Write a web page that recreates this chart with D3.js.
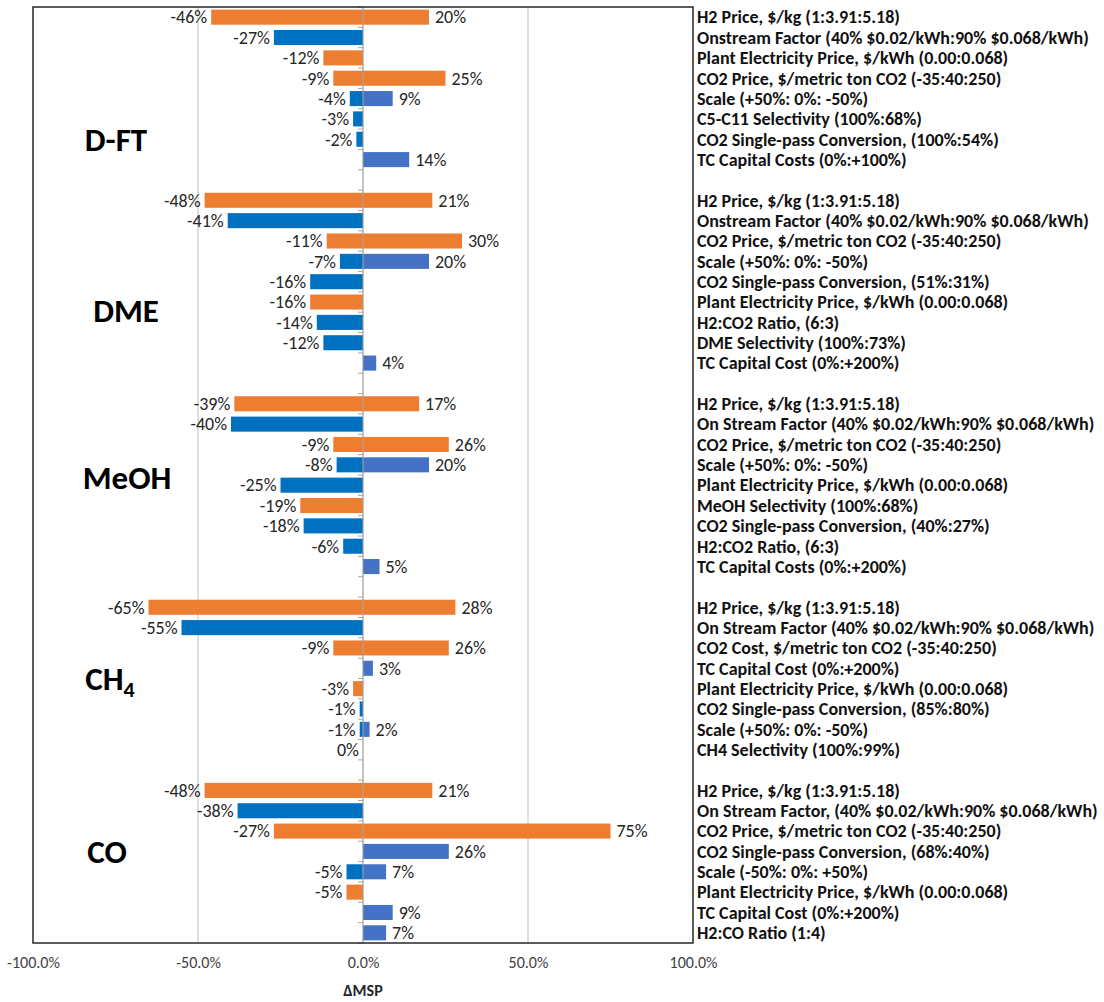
<!DOCTYPE html>
<html>
<head>
<meta charset="utf-8">
<script src="https://cdn.jsdelivr.net/npm/d3@7"></script>
<style>
  body { margin: 0; background: #fff; }
  svg { display: block; }
</style>
</head>
<body>
<svg id="chart" width="1104" height="1002"></svg>
<script>
// ---- Sensitivity results: change in minimum selling price (ΔMSP, %) ----
const products = ["D-FT", "DME", "MeOH", "CH4", "CO"];

const dftFactors = [
  "H2 Price, $/kg (1:3.91:5.18)",
  "Onstream Factor (40% $0.02/kWh:90% $0.068/kWh)",
  "Plant Electricity Price, $/kWh (0.00:0.068)",
  "CO2 Price, $/metric ton CO2 (-35:40:250)",
  "Scale (+50%: 0%: -50%)",
  "C5-C11 Selectivity (100%:68%)",
  "CO2 Single-pass Conversion, (100%:54%)",
  "TC Capital Costs (0%:+100%)"
];
const dftLow   = [-46, -27, -12, -9, -4, -3, -2, null];
const dftHigh  = [20, null, null, 25, 9, null, null, 14];
const dftKind  = ["cost", "ops", "cost", "cost", "ops", "ops", "ops", "ops"];

const dmeFactors = [
  "H2 Price, $/kg (1:3.91:5.18)",
  "Onstream Factor (40% $0.02/kWh:90% $0.068/kWh)",
  "CO2 Price, $/metric ton CO2 (-35:40:250)",
  "Scale (+50%: 0%: -50%)",
  "CO2 Single-pass Conversion, (51%:31%)",
  "Plant Electricity Price, $/kWh (0.00:0.068)",
  "H2:CO2 Ratio, (6:3)",
  "DME Selectivity (100%:73%)",
  "TC Capital Cost (0%:+200%)"
];
const dmeLow   = [-48, -41, -11, -7, -16, -16, -14, -12, null];
const dmeHigh  = [21, null, 30, 20, null, null, null, null, 4];
const dmeKind  = ["cost", "ops", "cost", "ops", "ops", "cost", "ops", "ops", "ops"];

const meohFactors = [
  "H2 Price, $/kg (1:3.91:5.18)",
  "On Stream Factor (40% $0.02/kWh:90% $0.068/kWh)",
  "CO2 Price, $/metric ton CO2 (-35:40:250)",
  "Scale (+50%: 0%: -50%)",
  "Plant Electricity Price, $/kWh (0.00:0.068)",
  "MeOH Selectivity (100%:68%)",
  "CO2 Single-pass Conversion, (40%:27%)",
  "H2:CO2 Ratio, (6:3)",
  "TC Capital Costs (0%:+200%)"
];
const meohLow  = [-39, -40, -9, -8, -25, -19, -18, -6, null];
const meohHigh = [17, null, 26, 20, null, null, null, null, 5];
const meohKind = ["cost", "ops", "cost", "ops", "ops", "cost", "ops", "ops", "ops"];

const ch4Factors = [
  "H2 Price, $/kg (1:3.91:5.18)",
  "On Stream Factor (40% $0.02/kWh:90% $0.068/kWh)",
  "CO2 Cost, $/metric ton CO2 (-35:40:250)",
  "TC Capital Cost (0%:+200%)",
  "Plant Electricity Price, $/kWh (0.00:0.068)",
  "CO2 Single-pass Conversion, (85%:80%)",
  "Scale (+50%: 0%: -50%)",
  "CH4 Selectivity (100%:99%)"
];
const ch4Low   = [-65, -55, -9, null, -3, -1, -1, 0];
const ch4High  = [28, null, 26, 3, null, null, 2, null];
const ch4Kind  = ["cost", "ops", "cost", "ops", "cost", "ops", "ops", "ops"];

const coFactors = [
  "H2 Price, $/kg (1:3.91:5.18)",
  "On Stream Factor, (40% $0.02/kWh:90% $0.068/kWh)",
  "CO2 Price, $/metric ton CO2 (-35:40:250)",
  "CO2 Single-pass Conversion, (68%:40%)",
  "Scale (-50%: 0%: +50%)",
  "Plant Electricity Price, $/kWh (0.00:0.068)",
  "TC Capital Cost (0%:+200%)",
  "H2:CO Ratio (1:4)"
];
const coLow    = [-48, -38, -27, null, -5, -5, null, null];
const coHigh   = [21, null, 75, 26, 7, null, 9, 7];
const coKind   = ["cost", "ops", "cost", "ops", "ops", "cost", "ops", "ops"];

const xTicks = [-100, -50, 0, 50, 100];
const xTickLabels = ["-100.0%", "-50.0%", "0.0%", "50.0%", "100.0%"];
const xTitle = "ΔMSP";

// ---- assemble rows (one empty band between product blocks) ----
const blocks = [
  { name: products[0], factors: dftFactors,  low: dftLow,  high: dftHigh,  kind: dftKind },
  { name: products[1], factors: dmeFactors,  low: dmeLow,  high: dmeHigh,  kind: dmeKind },
  { name: products[2], factors: meohFactors, low: meohLow, high: meohHigh, kind: meohKind },
  { name: products[3], factors: ch4Factors,  low: ch4Low,  high: ch4High,  kind: ch4Kind },
  { name: products[4], factors: coFactors,   low: coLow,   high: coHigh,   kind: coKind }
];

const rows = [];
const slots = [];
const blockSpans = [];
blocks.forEach((b, bi) => {
  if (bi > 0) slots.push("gap" + bi);
  const first = slots.length;
  b.factors.forEach((f, i) => {
    const id = b.name + "|" + i;
    slots.push(id);
    rows.push({ id, block: b.name, factor: f, low: b.low[i], high: b.high[i], kind: b.kind[i] });
  });
  blockSpans.push({ name: b.name, first, last: slots.length - 1 });
});

// ---- layout ----
const plot = { left: 33, right: 693, top: 7, bottom: 943 };
const svg = d3.select("#chart");

const x = d3.scaleLinear().domain([-100, 100]).range([plot.left, plot.right]);
const y = d3.scaleBand().domain(slots).range([plot.top, plot.bottom]).paddingInner(0.26).paddingOuter(0.13);
const step = y.step();

const colours = { cost: "#ED7D31", opsLow: "#0070C0", opsHigh: "#4472C4" };
const font = "Carlito, Lato, 'Open Sans', sans-serif";

// gridlines
svg.append("g")
  .selectAll("line")
  .data(xTicks.filter(t => t > -100 && t < 100))
  .join("line")
  .attr("x1", d => x(d)).attr("x2", d => x(d))
  .attr("y1", plot.top).attr("y2", plot.bottom)
  .attr("stroke", "#BFBFBF").attr("stroke-width", 1);

// bars
const bars = svg.append("g");
rows.forEach(r => {
  if (r.low !== null && r.low !== 0) {
    bars.append("rect")
      .attr("x", x(r.low)).attr("width", x(0) - x(r.low))
      .attr("y", y(r.id)).attr("height", y.bandwidth())
      .attr("fill", r.kind === "cost" ? colours.cost : colours.opsLow);
  }
  if (r.high !== null) {
    bars.append("rect")
      .attr("x", x(0)).attr("width", x(r.high) - x(0))
      .attr("y", y(r.id)).attr("height", y.bandwidth())
      .attr("fill", r.kind === "cost" ? colours.cost : colours.opsHigh);
  }
});

// category axis along zero with minor ticks between bands
const tickYs = d3.range(slots.length + 1).map(i => plot.top + i * step);
svg.append("g")
  .selectAll("line")
  .data(tickYs)
  .join("line")
  .attr("x1", x(0) - 5).attr("x2", x(0))
  .attr("y1", d => d).attr("y2", d => d)
  .attr("stroke", "#A6A6A6").attr("stroke-width", 1);
svg.append("line")
  .attr("x1", x(0)).attr("x2", x(0))
  .attr("y1", plot.top).attr("y2", plot.bottom)
  .attr("stroke", "#A6A6A6").attr("stroke-width", 1);

// value labels
const pct = v => v + "%";
const labels = svg.append("g")
  .attr("font-family", font).attr("font-size", 18).attr("fill", "#262626");
rows.forEach(r => {
  const cy = y(r.id) + y.bandwidth() / 2;
  if (r.low !== null) {
    labels.append("text")
      .attr("x", x(r.low) - 4).attr("y", cy).attr("dy", "0.35em")
      .attr("text-anchor", "end")
      .text(pct(r.low));
  }
  if (r.high !== null) {
    labels.append("text")
      .attr("x", x(r.high) + 6).attr("y", cy).attr("dy", "0.35em")
      .attr("text-anchor", "start")
      .text(pct(r.high));
  }
});

// factor names to the right of the plot
svg.append("g")
  .attr("font-family", font).attr("font-size", 18).attr("font-weight", "bold").attr("fill", "#111")
  .selectAll("text")
  .data(rows)
  .join("text")
  .attr("x", plot.right + 4)
  .attr("y", d => y(d.id) + y.bandwidth() / 2)
  .attr("dy", "0.35em")
  .text(d => d.factor);

// product names inside the plot (hand-placed beside each block)
const productLabelX = [116, 126, 127, 110, 107];
const productLabelShift = [2.5, 1.4, -0.4, 0.0, -0.5];
const productLabels = svg.append("g")
  .attr("font-family", font).attr("font-size", 33).attr("font-weight", "bold").attr("fill", "#000");
blockSpans.forEach((s, i) => {
  const mid = (y(slots[s.first]) + y(slots[s.last]) + y.bandwidth()) / 2 + productLabelShift[i] * step;
  const t = productLabels.append("text")
    .attr("x", productLabelX[i]).attr("y", mid).attr("dy", "0.35em")
    .attr("text-anchor", "middle");
  if (s.name === "CH4") {
    t.append("tspan").text("CH");
    t.append("tspan").attr("font-size", 22).attr("dy", "0.3em").text("4");
  } else {
    t.text(s.name);
  }
});

// frame
svg.append("rect")
  .attr("x", plot.left).attr("y", plot.top)
  .attr("width", plot.right - plot.left).attr("height", plot.bottom - plot.top)
  .attr("fill", "none").attr("stroke", "#262626").attr("stroke-width", 1.5);

// value axis
const xAxis = d3.axisBottom(x)
  .tickValues(xTicks)
  .tickFormat((d, i) => xTickLabels[i])
  .tickSize(0).tickPadding(14);
const ax = svg.append("g")
  .attr("transform", `translate(0,${plot.bottom})`)
  .call(xAxis);
ax.select(".domain").remove();
ax.selectAll("text")
  .attr("font-family", font).attr("font-size", 16).attr("fill", "#404040");

svg.append("text")
  .attr("x", x(0)).attr("y", 996)
  .attr("text-anchor", "middle")
  .attr("font-family", font).attr("font-size", 16).attr("font-weight", "bold").attr("fill", "#262626")
  .text(xTitle);
</script>
</body>
</html>
